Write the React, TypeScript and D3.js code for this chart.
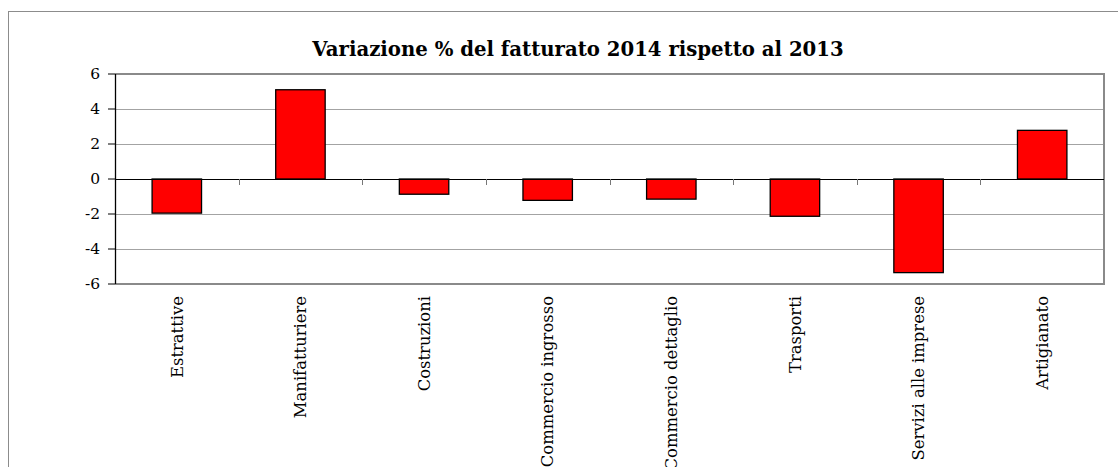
import React from 'react';
import * as d3 from 'd3';

// chart data
const categories = [
  'Estrattive',
  'Manifatturiere',
  'Costruzioni',
  'Commercio ingrosso',
  'Commercio dettaglio',
  'Trasporti',
  'Servizi alle imprese',
  'Artigianato',
];
const variazione = [-1.95, 5.1, -0.87, -1.22, -1.15, -2.13, -5.35, 2.78];
const yTicks = [-6, -4, -2, 0, 2, 4, 6];
const title = 'Variazione % del fatturato 2014 rispetto al 2013';

const W = 1118;
const H = 467;
const margin = { top: 74, right: 14, bottom: 183, left: 115 };
const FONT = 'DejaVu Serif, serif';

export default function App() {
  const innerW = W - margin.left - margin.right;
  const innerH = H - margin.top - margin.bottom;

  const x = d3.scaleBand<string>()
    .domain(categories)
    .range([0, innerW])
    .paddingInner(0.6)
    .paddingOuter(0.3);
  const step = innerW / categories.length;

  const y = d3.scaleLinear()
    .domain([-6, 6])
    .range([innerH, 0]);

  // category boundaries for the little ticks under the zero line
  const bounds = d3.range(1, categories.length).map((i) => i * step);

  return (
    <div style={{ position: 'fixed', left: 0, top: 0 }}>
      <svg width={W} height={H} style={{ display: 'block', background: '#fff' }}>
        {/* outer chart frame, runs off the picture on the right and bottom */}
        <rect x={8.5} y={11.5} width={W + 20} height={H + 20} fill="#fff" stroke="#8c8c8c" strokeWidth={1} />

        <text
          x={578}
          y={56}
          textAnchor="middle"
          fontFamily={FONT}
          fontWeight="bold"
          fontSize={19.7}
          fill="#000"
        >
          {title}
        </text>

        <g transform={`translate(${margin.left},${margin.top})`}>
          {/* gridlines */}
          {yTicks.filter((t) => t !== 0 && t !== 6 && t !== -6).map((t) => (
            <line
              key={`g${t}`}
              x1={0}
              x2={innerW}
              y1={Math.round(y(t)) + 0.5}
              y2={Math.round(y(t)) + 0.5}
              stroke="#a3a3a3"
              strokeWidth={1}
            />
          ))}

          {/* plot frame top / right / bottom */}
          <path
            d={`M0,${y(6)}H${innerW}V${y(-6)}H0`}
            fill="none"
            stroke="#8a8a8a"
            strokeWidth={2}
          />

          {/* bars */}
          {categories.map((c, i) => {
            const v = variazione[i];
            const top = y(Math.max(0, v));
            const bottom = y(Math.min(0, v));
            return (
              <rect
                key={c}
                x={x(c)}
                y={top}
                width={x.bandwidth()}
                height={bottom - top}
                fill="#ff0000"
                stroke="#000"
                strokeWidth={1.3}
              />
            );
          })}

          {/* zero line with category ticks */}
          <line x1={0} x2={innerW} y1={Math.round(y(0)) + 0.5} y2={Math.round(y(0)) + 0.5} stroke="#000" strokeWidth={1} />
          {bounds.map((b) => (
            <line
              key={`b${b}`}
              x1={Math.round(b) + 0.5}
              x2={Math.round(b) + 0.5}
              y1={y(0)}
              y2={y(0) + 6}
              stroke="#777"
              strokeWidth={1}
            />
          ))}

          {/* y axis */}
          <line x1={0.5} x2={0.5} y1={y(6)} y2={y(-6)} stroke="#000" strokeWidth={1.3} />
          {yTicks.map((t) => (
            <g key={`t${t}`} transform={`translate(0,${y(t)})`}>
              <line x1={-7} x2={0} stroke="#000" strokeWidth={1} />
              <text
                x={-15}
                dy="0.35em"
                textAnchor="end"
                fontFamily={FONT}
                fontSize={15.5}
                fill="#000"
              >
                {t}
              </text>
            </g>
          ))}

          {/* category labels, rotated */}
          {categories.map((c) => (
            <text
              key={`l${c}`}
              transform={`translate(${(x(c) ?? 0) + x.bandwidth() / 2},${innerH + 12}) rotate(-90)`}
              textAnchor="end"
              dy="0.35em"
              fontFamily={FONT}
              fontSize={16.4}
              fill="#000"
            >
              {c}
            </text>
          ))}
        </g>
      </svg>
    </div>
  );
}
